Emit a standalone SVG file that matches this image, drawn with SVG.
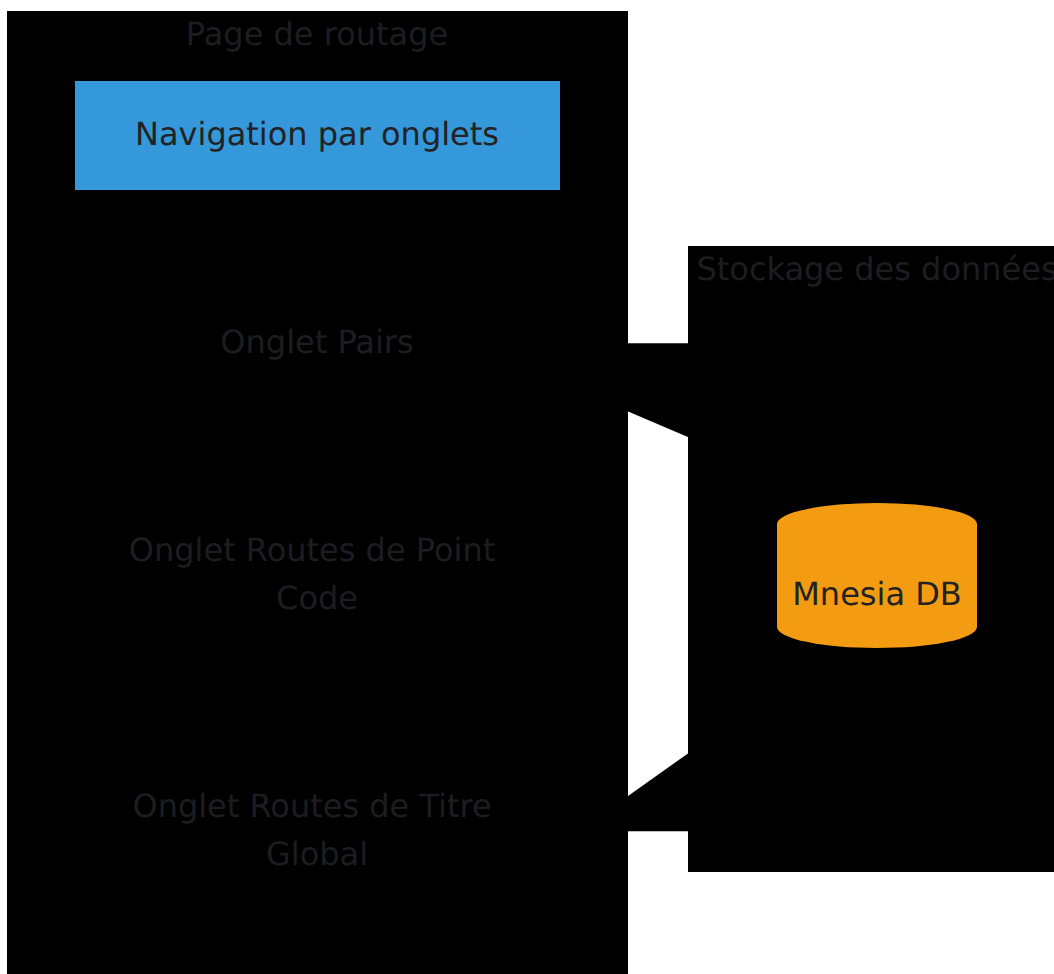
<svg xmlns="http://www.w3.org/2000/svg" width="1054" height="974" viewBox="0 0 1054 974">
<style>
text{font-family:"DejaVu Sans",sans-serif;font-size:32px;text-anchor:middle;text-rendering:geometricPrecision}
.d{fill:#1c1d21}
.n{fill:#222222}
.b{fill:#000000}
</style>
<rect width="1054" height="974" fill="#ffffff"/>
<g id="connectors">
<polygon class="b" points="627,343.300 689,343.300 689,437.500 627,411"/>
<polygon class="b" points="627,796.700 689,752.700 689,831.300 627,831.300"/>
</g>
<g id="page-routage">
<rect class="b" x="7" y="11" width="621" height="963"/>
<text class="d" x="317" y="45">Page de routage</text>
</g>
<g id="navigation">
<rect x="75" y="81" width="485" height="109" fill="#3498db"/>
<text class="n" x="317" y="145">Navigation par onglets</text>
</g>
<g id="onglet-pairs"><text class="d" x="317" y="353">Onglet Pairs</text></g>
<g id="onglet-point-code"><text class="d" x="312" y="561">Onglet Routes de Point</text><text class="d" x="317" y="609">Code</text></g>
<g id="onglet-titre-global"><text class="d" x="312" y="817">Onglet Routes de Titre</text><text class="d" x="317" y="865">Global</text></g>
<g id="stockage">
<rect class="b" x="688" y="246" width="366" height="626"/>
<text class="d" x="877" y="280">Stockage des données</text>
</g>
<g id="mnesia">
<path d="M777 524A100 21 0 0 1 977 524V627A100 21 0 0 1 777 627Z" fill="#f39c12"/>
<text class="n" x="877" y="605">Mnesia DB</text>
</g>
</svg>
